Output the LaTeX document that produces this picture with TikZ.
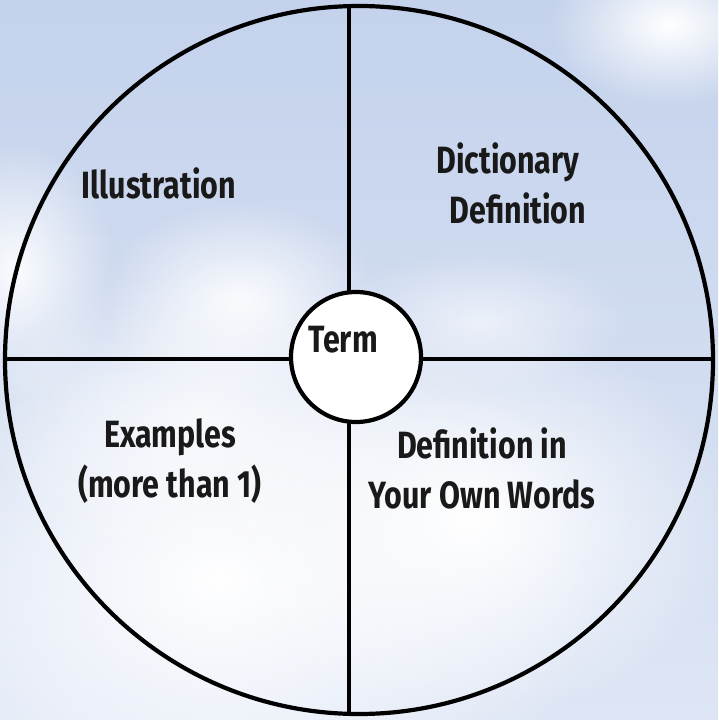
\documentclass[tikz,border=0pt]{standalone}
\usepackage{fontspec}
\setmainfont{Fira Sans}[UprightFont=* Bold, FakeStretch=0.8]
\usetikzlibrary{fadings}
\definecolor{sky}{RGB}{196,210,236}
\definecolor{skylight}{RGB}{222,230,245}
\tikzfading[name=fuzzy, inner color=transparent!0, outer color=transparent!100]
\tikzset{
  ring/.style={draw=black, line width=4.2pt, circle},
  divider/.style={draw=black, line width=3.4pt},
  label/.style={font=\fontsize{38}{50}\selectfont, align=center, text=black!90, inner sep=0pt},
  cloud/.style={fill=white, path fading=fuzzy}
}
\begin{document}
\begin{tikzpicture}[x=1pt,y=-1pt]
\useasboundingbox (0,0) rectangle (718,720);
% sky
\fill[top color=sky, bottom color=skylight] (0,0) rectangle (718,720);
\fill[cloud, opacity=1] (670,25) ellipse (120 and 80);
\fill[cloud, opacity=0.9] (15,270) ellipse (100 and 130);
\fill[cloud, opacity=0.9] (240,300) ellipse (140 and 100);
\fill[cloud, opacity=1] (220,580) ellipse (380 and 280);
\fill[cloud, opacity=1] (470,520) ellipse (260 and 200);
\fill[cloud, opacity=0.7] (200,420) ellipse (220 and 150);
\fill[cloud, opacity=0.6] (480,320) ellipse (150 and 70);
% wheel
\node[ring, minimum size=708pt] (outer) at (359,360) {};
\coordinate (vx) at (349,359);
\draw[divider] (vx |- outer.north) -- (vx |- outer.south);
\draw[divider] (outer.west |- vx) -- (outer.east |- vx);
\node[ring, fill=white, minimum size=130pt] (term) at (356,357) {};
% texts
\node[label] (termtext) at (343,340) {Term};
\node[label] (ill) at (159,183) {Illustration};
\node[label] (dict) at (508,183) {Dictionary\\\hspace*{20pt}Definition};
\node[label] (ex) at (170,461) {Examples\\(more than 1)};
\node[label] (own) at (482,468) {Definition in\\Your Own Words};
\end{tikzpicture}
\end{document}
